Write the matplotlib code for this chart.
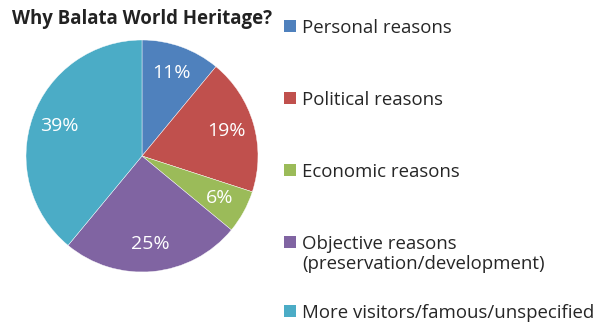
import matplotlib.pyplot as plt
from matplotlib.patches import Rectangle

plt.rcParams['font.family'] = ['Open Sans', 'DejaVu Sans']

# data
labels = ['Personal reasons', 'Political reasons', 'Economic reasons',
          'Objective reasons\n(preservation/development)',
          'More visitors/famous/unspecified']
shares = [11, 19, 6, 25, 39]
colors = ['#4F81BD', '#C0504D', '#9BBB59', '#8064A2', '#4BACC6']
legend_base = [33, 105, 177, 249, 318]  # baseline pixel row of each legend entry (from top)

W, H = 602, 326
fig = plt.figure(figsize=(W / 100, H / 100), dpi=100)

# pie area: centre ~ (142,156) px, radius ~116 px
cx, cy, r = 142, 156, 116
ax = fig.add_axes([(cx - r) / W, (H - cy - r) / H, 2 * r / W, 2 * r / H])
wedges, texts, autotexts = ax.pie(
    shares, colors=colors, startangle=90, counterclock=False,
    autopct='%d%%', pctdistance=0.76, radius=1,
    wedgeprops=dict(linewidth=0.3, edgecolor='white'),
    textprops=dict(color='white', fontsize=14))
ax.set_xlim(-1, 1)
ax.set_ylim(-1, 1)
ax.set_aspect('equal')
ax.axis('off')

fig.text(12 / W, 1 - 24 / H, 'Why Balata World Heritage?', fontsize=13.4,
         fontweight='bold', color='#222222', va='baseline', ha='left')

# legend drawn by hand (Excel-like layout)
for lab, col, yb in zip(labels, colors, legend_base):
    fig.patches.append(Rectangle((284 / W, 1 - (yb - 1) / H), 12 / W, 12 / H,
                                 transform=fig.transFigure, facecolor=col,
                                 edgecolor='none'))
    for i, line in enumerate(lab.split('\n')):
        fig.text(302 / W, 1 - (yb + 20 * i) / H, line, fontsize=13.4,
                 color='#262626', va='baseline', ha='left')

fig.savefig('out.png', dpi=100)
